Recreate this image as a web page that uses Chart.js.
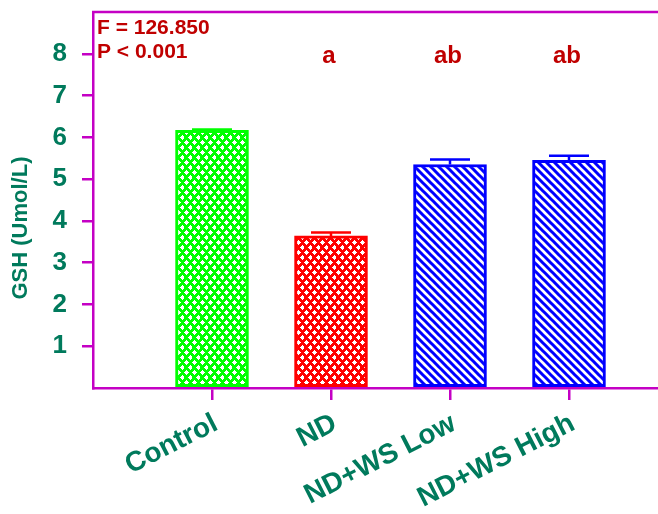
<!DOCTYPE html>
<html>
<head>
<meta charset="utf-8">
<script src="https://cdn.jsdelivr.net/npm/chart.js@4/dist/chart.umd.min.js"></script>
<style>
  html, body { margin: 0; padding: 0; background: #fff; overflow: hidden; }
  #wrap { width: 658px; height: 514px; overflow: hidden; }
  canvas { display: block; }
</style>
</head>
<body>
<div id="wrap"><canvas id="c" width="700" height="514"></canvas></div>
<script>
// Group names (padded with empty slots at both ends of the axis)
const groups = ['Control', 'ND', 'ND+WS Low', 'ND+WS High'];
// Mean GSH (Umol/L) per group
const gshMean = [6.17, 3.64, 5.35, 5.45];
// Standard error per group
const gshErr = [0.02, 0.08, 0.12, 0.11];
// Significance letters above each group
const sigLetters = ['', 'a', 'ab', 'ab'];
// Y axis tick labels shown
const yTicks = [1, 2, 3, 4, 5, 6, 7, 8];
// ANOVA summary
const statLines = ['F = 126.850', 'P < 0.001'];

const TEXT_GREEN = '#007a5c';
const TEXT_RED = '#c00000';
const AXIS = '#c400c4';
const FONT = '"Liberation Sans", Arial, sans-serif';

function dotPattern(bg) {
  const t = document.createElement('canvas');
  t.width = 8; t.height = 10;
  const g = t.getContext('2d');
  g.fillStyle = bg; g.fillRect(0, 0, 8, 10);
  g.fillStyle = '#fff';
  const plus = (x, y) => { g.fillRect(x - 1, y - 1, 3, 3); g.fillRect(x - 2, y, 5, 1); g.fillRect(x, y - 2, 1, 5); };
  plus(2, 2); plus(6, 7);
  return g.createPattern(t, 'repeat');
}
function stripePattern(fg) {
  const t = document.createElement('canvas');
  t.width = 8; t.height = 8;
  const g = t.getContext('2d');
  g.fillStyle = '#fff'; g.fillRect(0, 0, 8, 8);
  g.strokeStyle = fg; g.lineWidth = 3;
  g.beginPath();
  for (let k = -8; k <= 8; k += 8) { g.moveTo(k - 2, -2); g.lineTo(k + 10, 10); }
  g.stroke();
  return g.createPattern(t, 'repeat');
}

const edge = ['#00ff00', '#ff0000', '#0000ff', '#0000ff'];
const fills = [dotPattern('#00ff00'), dotPattern('#ff0000'), stripePattern('#0000ff'), stripePattern('#0000ff')];

const labels = [''].concat(groups, ['']);
const values = [null].concat(gshMean, [null]);
const errs = [null].concat(gshErr, [null]);

const extras = {
  id: 'extras',
  afterDatasetsDraw(chart) {
    const { ctx, chartArea: a, scales: { x, y } } = chart;
    ctx.save();
    // top frame line
    ctx.strokeStyle = AXIS; ctx.lineWidth = 2.5;
    ctx.beginPath(); ctx.moveTo(a.left - 1, a.top); ctx.lineTo(a.right, a.top); ctx.stroke();
    // error bars
    ctx.lineWidth = 2.5;
    values.forEach((v, i) => {
      if (v == null) return;
      const px = x.getPixelForValue(i);
      const y0 = y.getPixelForValue(v);
      const y1 = y.getPixelForValue(v + errs[i]);
      ctx.strokeStyle = edge[i - 1];
      ctx.beginPath();
      ctx.moveTo(px, y0); ctx.lineTo(px, y1);
      ctx.moveTo(px - 20, y1); ctx.lineTo(px + 20, y1);
      ctx.stroke();
    });
    // significance letters
    ctx.fillStyle = TEXT_RED;
    ctx.font = 'bold 24px ' + FONT;
    ctx.textAlign = 'center'; ctx.textBaseline = 'alphabetic';
    sigLetters.forEach((s, i) => {
      if (!s) return;
      ctx.fillText(s, x.getPixelForValue(i + 1) - 2, y.getPixelForValue(8) + 9);
    });
    // ANOVA summary
    ctx.font = 'bold 21px ' + FONT;
    ctx.textAlign = 'left'; ctx.textBaseline = 'middle';
    statLines.forEach((s, k) => ctx.fillText(s, a.left + 4, a.top + 16 + k * 24));
    // y axis title
    ctx.fillStyle = TEXT_GREEN;
    ctx.font = 'bold 22px ' + FONT;
    ctx.translate(21, 228);
    ctx.rotate(-Math.PI / 2);
    ctx.textAlign = 'center';
    ctx.fillText('GSH (Umol/L)', 0, 0);
    ctx.restore();
  }
};

new Chart(document.getElementById('c'), {
  type: 'bar',
  data: {
    labels,
    datasets: [{
      data: values,
      backgroundColor: [null].concat(fills, [null]),
      borderColor: [null].concat(edge, [null]),
      borderWidth: 3,
      borderSkipped: false,
      barThickness: 73
    }]
  },
  options: {
    responsive: false,
    animation: false,
    devicePixelRatio: 1,
    layout: { padding: { top: 12, right: 12, left: 0, bottom: 0 } },
    plugins: { legend: { display: false }, tooltip: { enabled: false } },
    scales: {
      x: {
        offset: false,
        afterFit(s) { s.height = 126; s.paddingLeft = 0; s.paddingRight = 0; },
        border: { color: AXIS, width: 2.5 },
        grid: {
          offset: false,
          drawOnChartArea: false, drawTicks: true, tickLength: 12, lineWidth: 2.5,
          tickColor: c => (labels[c.index] ? AXIS : 'rgba(0,0,0,0)'),
          color: 'rgba(0,0,0,0)'
        },
        ticks: {
          autoSkip: false, minRotation: 27, maxRotation: 27, padding: 7, labelOffset: 4,
          color: TEXT_GREEN, font: { family: FONT, size: 28, weight: 'bold' }
        }
      },
      y: {
        min: 0, max: 9,
        afterFit(s) { s.width = 93; s.paddingTop = 0; s.paddingBottom = 0; },
        border: { color: AXIS, width: 2.5 },
        grid: {
          drawOnChartArea: false, drawTicks: true, tickLength: 11, lineWidth: 2.5,
          tickColor: c => (yTicks.includes(c.tick.value) ? AXIS : 'rgba(0,0,0,0)')
        },
        ticks: {
          stepSize: 1, padding: 15,
          color: TEXT_GREEN, font: { family: FONT, size: 26, weight: 'bold' },
          callback: v => (yTicks.includes(v) ? String(v) : '')
        }
      }
    }
  },
  plugins: [extras]
});
</script>
</body>
</html>
